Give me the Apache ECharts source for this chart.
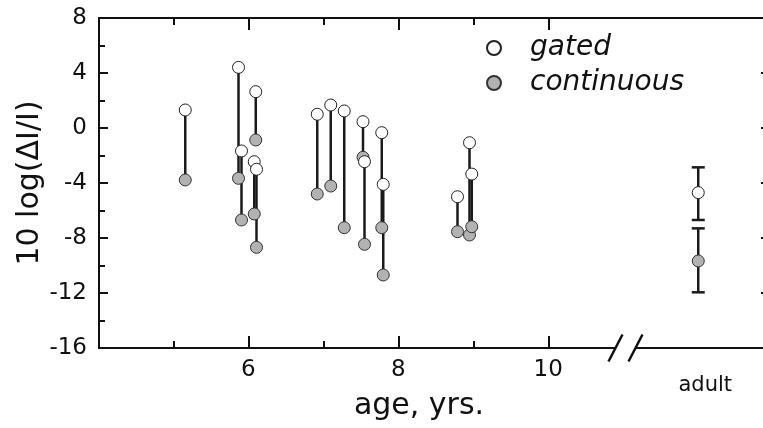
<!DOCTYPE html>
<html>
<head>
<meta charset="utf-8">
<script src="https://cdn.jsdelivr.net/npm/echarts@6/dist/echarts.min.js"></script>
<style>
html,body{margin:0;padding:0;background:#fff;}
#chart{width:763px;height:428px;}
</style>
</head>
<body>
<div id="chart"></div>
<script>
// ---- data ----
var ages       = [5.16, 5.87, 5.91, 6.10, 6.08, 6.11, 6.92, 7.10, 7.28, 7.53, 7.55, 7.78, 7.80, 8.79, 8.95, 8.98];
var gated      = [1.31, 4.41, -1.67, 2.64, -2.45, -3.00, 1.00, 1.67, 1.24, 0.46, -2.45, -0.34, -4.10, -5.00, -1.07, -3.35];
var continuous = [-3.78, -3.66, -6.69, -0.87, -6.25, -8.68, -4.80, -4.22, -7.25, -2.13, -8.46, -7.25, -10.69, -7.54, -7.78, -7.18];
var adultX     = 12;
var adultMean  = [-4.70, -9.67];   // gated, continuous
var adultLow   = [-6.69, -11.95];
var adultHigh  = [-2.86, -7.30];
var breakAt    = 11.03;
var xMajorTicks = [6, 8, 10];
var xMinorTicks = [5, 7, 9];
var xLabels     = [6, 8, 10, 12];
var seriesNames = ['gated', 'continuous'];

var FONT = 'DejaVu Sans';
var INK = '#111';
var XMIN = 4.01, XMAX = 4.01 + 670 / 75;

var chart = echarts.init(document.getElementById('chart'), null, {renderer: 'canvas'});

function xAxisBase(pos, showLine, ticks, len) {
  return {
    type: 'value', position: pos, min: XMIN, max: XMAX,
    splitLine: {show: false},
    axisLine: {show: showLine, onZero: false, lineStyle: {color: INK, width: 2}},
    axisTick: {show: true, inside: true, length: len, customValues: ticks, lineStyle: {color: INK, width: 2}},
    axisLabel: {show: false}
  };
}

var xMain = xAxisBase('bottom', true, xMajorTicks, 12);
xMain.axisLabel = {
  show: true, customValues: xLabels, margin: 11,
  fontFamily: FONT, fontSize: 23, color: INK,
  formatter: function (v) { return v === adultX ? '{a|adult}' : String(v); },
  rich: {a: {fontFamily: FONT, fontSize: 21, color: INK, padding: [16, 0, 0, 14]}}
};
xMain.name = 'age, yrs.';
xMain.nameLocation = 'middle';
xMain.nameGap = 43;
xMain.nameMoveOverlap = false;
xMain.nameTextStyle = {fontFamily: FONT, fontSize: 30, color: INK, padding: [0, 30, 0, 0]};

var option = {
  animation: false,
  backgroundColor: '#fff',
  grid: {left: 99, right: -6, top: 18, bottom: 80, containLabel: false, outerBoundsMode: 'none'},
  legend: {
    data: seriesNames, orient: 'vertical', left: 481, top: 29,
    icon: 'circle', itemWidth: 14, itemHeight: 14, itemGap: 7,
    textStyle: {fontFamily: FONT, fontStyle: 'italic', fontSize: 28, color: INK, padding: [0, 0, 0, 24]}
  },
  xAxis: [
    xMain,
    xAxisBase('bottom', false, xMinorTicks, 7),
    xAxisBase('top', true, xMajorTicks, 12),
    xAxisBase('top', false, xMinorTicks, 7)
  ],
  yAxis: [
    {
      type: 'value', position: 'left', min: -16, max: 8, interval: 4,
      splitLine: {show: false},
      axisLine: {show: true, onZero: false, lineStyle: {color: INK, width: 2}},
      axisTick: {show: true, inside: true, length: 9, lineStyle: {color: INK, width: 2}},
      minorTick: {show: true, splitNumber: 2, length: 6, lineStyle: {color: INK, width: 2}},
      axisLabel: {margin: 12, fontFamily: FONT, fontSize: 23, color: INK},
      name: '10 log(ΔI/I)', nameLocation: 'middle', nameGap: 54, nameMoveOverlap: false,
      nameTextStyle: {fontFamily: FONT, fontSize: 30, color: INK}
    },
    {
      type: 'value', position: 'right', min: -16, max: 8, interval: 4,
      splitLine: {show: false},
      axisLine: {show: true, onZero: false, lineStyle: {color: INK, width: 2}},
      axisTick: {show: true, inside: true, length: 8, lineStyle: {color: INK, width: 2}},
      axisLabel: {show: false}
    }
  ],
  series: [
    {
      type: 'custom', name: 'connectors', xAxisIndex: 0, yAxisIndex: 0, z: 2,
      data: ages.map(function (a, i) { return [a, gated[i], continuous[i]]; }),
      encode: {x: 0, y: [1, 2]},
      renderItem: function (params, api) {
        var p1 = api.coord([api.value(0), api.value(1)]);
        var p2 = api.coord([api.value(0), api.value(2)]);
        return {type: 'line', shape: {x1: p1[0], y1: p1[1], x2: p2[0], y2: p2[1]},
                style: {stroke: '#1a1a1a', lineWidth: 2.5}};
      }
    },
    {
      type: 'custom', name: 'errorbars', xAxisIndex: 0, yAxisIndex: 0, z: 2,
      data: adultMean.map(function (m, i) { return [adultX, adultLow[i], adultHigh[i]]; }),
      encode: {x: 0, y: [1, 2]},
      renderItem: function (params, api) {
        var lo = api.coord([api.value(0), api.value(1)]);
        var hi = api.coord([api.value(0), api.value(2)]);
        var w = 6.5, st = {stroke: '#1a1a1a', lineWidth: 2.5};
        return {type: 'group', children: [
          {type: 'line', shape: {x1: lo[0], y1: lo[1], x2: hi[0], y2: hi[1]}, style: st},
          {type: 'line', shape: {x1: lo[0] - w, y1: lo[1], x2: lo[0] + w, y2: lo[1]}, style: st},
          {type: 'line', shape: {x1: hi[0] - w, y1: hi[1], x2: hi[0] + w, y2: hi[1]}, style: st}
        ]};
      }
    },
    {
      name: 'continuous', type: 'scatter', xAxisIndex: 0, yAxisIndex: 0, z: 3,
      symbol: 'circle', symbolSize: 12,
      itemStyle: {color: '#b2b2b2', borderColor: '#333', borderWidth: 1, opacity: 1},
      data: ages.map(function (a, i) { return [a, continuous[i]]; }).concat([[adultX, adultMean[1]]])
    },
    {
      name: 'gated', type: 'scatter', xAxisIndex: 0, yAxisIndex: 0, z: 4,
      symbol: 'circle', symbolSize: 12,
      itemStyle: {color: '#ffffff', borderColor: '#222', borderWidth: 1, opacity: 1},
      data: ages.map(function (a, i) { return [a, gated[i]]; }).concat([[adultX, adultMean[0]]])
    },
    {
      type: 'custom', name: 'break', xAxisIndex: 0, yAxisIndex: 0, z: 10, clip: false, silent: true,
      data: [[breakAt, -16]],
      renderItem: function (params, api) {
        var c = api.coord([api.value(0), api.value(1)]);
        var st = {stroke: '#111', lineWidth: 2.5};
        return {type: 'group', children: [
          {type: 'rect', shape: {x: c[0] - 10, y: c[1] - 3, width: 20, height: 6}, style: {fill: '#fff'}},
          {type: 'line', shape: {x1: c[0] - 17, y1: c[1] + 13.5, x2: c[0] - 3, y2: c[1] - 13.5}, style: st},
          {type: 'line', shape: {x1: c[0] + 3, y1: c[1] + 13.5, x2: c[0] + 17, y2: c[1] - 13.5}, style: st}
        ]};
      }
    }
  ]
};
chart.setOption(option);
</script>
</body>
</html>
